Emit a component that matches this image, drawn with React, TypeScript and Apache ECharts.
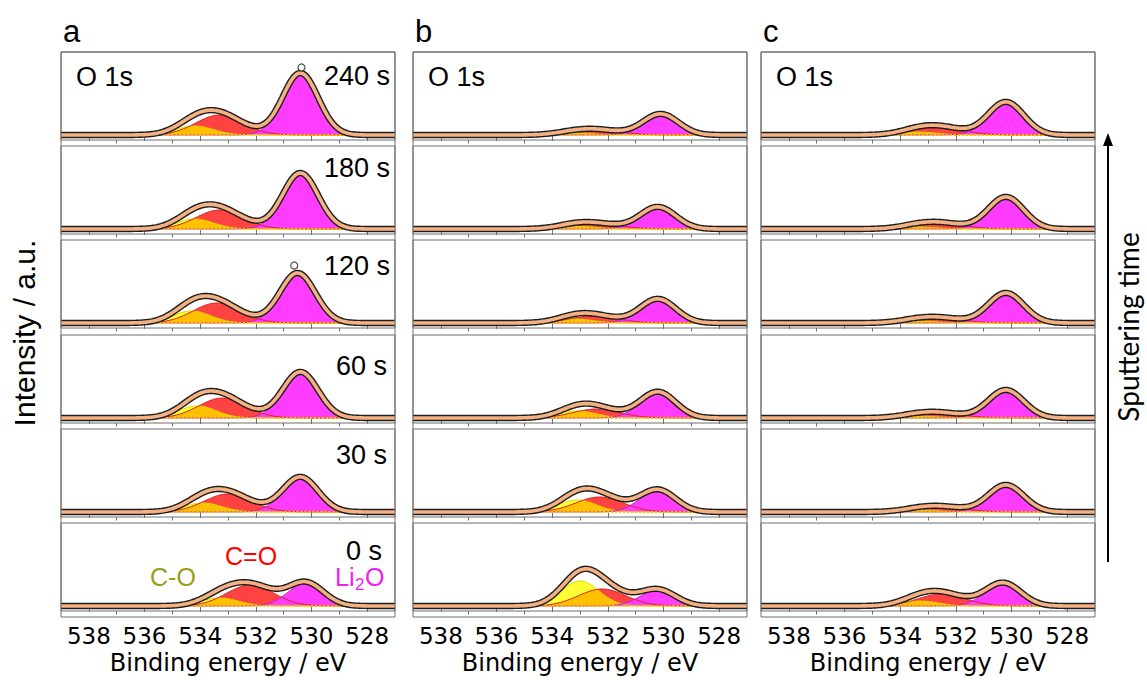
import React, { useEffect, useRef } from "react";
import * as echarts from "echarts";

// ---------- data ----------
const panelLetters = ["a", "b", "c"];
const sputterTimes = ["240 s", "180 s", "120 s", "60 s", "30 s", "0 s"];
const energyTickLabels = [538, 536, 534, 532, 530, 528];
const energyMinorTicks = [537, 535, 533, 531, 529];
const energyMin = 527;
const energyMax = 539;

// Fitted component FWHM (eV)
const fwhmCO = 1.6;
const fwhmCdO = 2.0;
const fwhmLi2O = 1.5;

// Panel a — rows from 240 s (top) to 0 s (bottom)
const aCOCenter = [534.2, 534.2, 534.3, 534.1, 533.9, 533.3];
const aCOHeight = [9, 10, 12, 12, 9, 8];
const aCdOCenter = [533.3, 533.3, 533.4, 533.2, 533.0, 532.2];
const aCdOHeight = [20, 19, 20, 20, 18, 21];
const aLi2OCenter = [530.4, 530.4, 530.5, 530.4, 530.4, 530.2];
const aLi2OHeight = [62, 56, 50, 46, 35, 23];

// Panel b
const bCOCenter = [533.2, 533.2, 533.2, 533.1, 533.1, 533.0];
const bCOHeight = [2, 3, 4, 7, 12, 25];
const bCdOCenter = [532.4, 532.4, 532.5, 532.4, 532.3, 532.2];
const bCdOHeight = [5, 5, 7, 9, 15, 17];
const bLi2OCenter = [530.1, 530.2, 530.2, 530.2, 530.2, 530.2];
const bLi2OHeight = [21, 22, 24, 26, 22, 16];

// Panel c
const cCOCenter = [533.4, 533.4, 533.4, 533.4, 533.3, 533.3];
const cCOHeight = [3, 2, 2, 2, 2, 5];
const cCdOCenter = [532.6, 532.6, 532.6, 532.6, 532.5, 532.5];
const cCdOHeight = [8, 6, 5, 5, 5, 12];
const cLi2OCenter = [530.2, 530.2, 530.2, 530.2, 530.2, 530.3];
const cLi2OHeight = [33, 32, 30, 28, 27, 23];

// Outlying data points (open circles)
const outlierPanel = [0, 0];
const outlierRow = [0, 2];
const outlierEnergy = [530.36, 530.62];
const outlierIntensity = [67.5, 57.5];

// ---------- layout / style ----------
const panelLeft = [61, 413, 761];
const panelWidth = 334;
const firstTop = 52;
const rowPitch = 94.2;
const rowHeight = 88;
const yMin = -5;

const timeLabelRight = [390, 390, 390, 387, 387, 382];
const timeLabelY = [76, 168, 266, 366, 455, 551];

const colYellow = "#FFFF33";
const colOrange = "#FFC000";
const colRed = "#FF4343";
const colMagenta = "#FF3CFF";
const colEnvelope = "#F4B183";
const frameColor = "#6e6e6e";

const panelPeaks = [
  { coC: aCOCenter, coH: aCOHeight, cdoC: aCdOCenter, cdoH: aCdOHeight, liC: aLi2OCenter, liH: aLi2OHeight },
  { coC: bCOCenter, coH: bCOHeight, cdoC: bCdOCenter, cdoH: bCdOHeight, liC: bLi2OCenter, liH: bLi2OHeight },
  { coC: cCOCenter, coH: cCOHeight, cdoC: cCdOCenter, cdoH: cCdOHeight, liC: cLi2OCenter, liH: cLi2OHeight },
];

const energies: number[] = [];
for (let i = 0; i <= 240; i++) energies.push(+(energyMin + i * 0.05).toFixed(2));

function gauss(E: number, c: number, h: number, fwhm: number) {
  return h * Math.exp((-4 * Math.LN2 * (E - c) * (E - c)) / (fwhm * fwhm));
}

function rowTop(r: number) {
  return Math.round(firstTop + rowPitch * r);
}

function buildOption() {
  const grids: any[] = [];
  const xAxes: any[] = [];
  const yAxes: any[] = [];
  const series: any[] = [];
  const graphic: any[] = [];

  panelLeft.forEach((left, p) => {
    const pk = panelPeaks[p];
    for (let r = 0; r < 6; r++) {
      const g = p * 6 + r;
      const isBottom = r === 5;
      grids.push({
        left,
        top: rowTop(r),
        width: panelWidth,
        height: rowHeight,
        show: true,
        borderColor: frameColor,
        borderWidth: 1,
        backgroundColor: "transparent",
      });
      xAxes.push({
        type: "value",
        gridIndex: g,
        min: energyMin,
        max: energyMax,
        inverse: true,
        position: "bottom",
        axisLine: { show: false },
        splitLine: { show: false },
        axisTick: {
          show: true,
          inside: false,
          length: 6,
          customValues: energyTickLabels,
          lineStyle: { color: frameColor, width: 1 },
        },
        axisLabel: {
          show: isBottom,
          customValues: energyTickLabels,
          margin: 13,
          fontFamily: "DejaVu Sans",
          fontSize: 23,
          color: "#000",
        },
        name: isBottom ? "Binding energy / eV" : "",
        nameLocation: "middle",
        nameGap: 40,
        nameTextStyle: { fontFamily: "DejaVu Sans", fontSize: 24, color: "#000" },
      });
      xAxes.push({
        type: "value",
        gridIndex: g,
        min: energyMin,
        max: energyMax,
        inverse: true,
        position: "bottom",
        offset: 0,
        axisLine: { show: false },
        splitLine: { show: false },
        axisTick: {
          show: true,
          inside: false,
          length: 3.5,
          customValues: energyMinorTicks,
          lineStyle: { color: frameColor, width: 1 },
        },
        axisLabel: { show: false },
      });
      yAxes.push({ type: "value", gridIndex: g, min: yMin, max: rowHeight + yMin, show: false });

      const co = energies.map((E) => gauss(E, pk.coC[r], pk.coH[r], fwhmCO));
      const cdo = energies.map((E) => gauss(E, pk.cdoC[r], pk.cdoH[r], fwhmCdO));
      const li = energies.map((E) => gauss(E, pk.liC[r], pk.liH[r], fwhmLi2O));
      const overlap = co.map((v, i) => Math.min(v, cdo[i]));
      const total = co.map((v, i) => v + cdo[i] + li[i]);

      const common = {
        type: "line",
        xAxisIndex: 2 * g,
        yAxisIndex: g,
        symbol: "none",
        silent: true,
        clip: true,
        animation: false,
      };
      const area = (vals: number[], fill: string, edge: string, w: number) => ({
        ...common,
        data: energies.map((E, i) => [E, vals[i]]),
        lineStyle: { color: edge, width: w },
        areaStyle: { color: fill, opacity: 1 },
      });
      series.push(area(co, colYellow, "#D8D800", 1));
      series.push(area(cdo, colRed, "#D82020", 1));
      series.push(area(overlap, colOrange, colOrange, 0));
      series.push(area(li, colMagenta, "#C020C0", 1));
      // dotted background line under the components
      series.push({
        ...common,
        data: energies.filter((E, i) => total[i] > 0.6).map((E) => [E, 0]),
        lineStyle: { color: colOrange, width: 2, type: [2, 2] },
      });
      // measured data (black) and fit envelope
      series.push({
        ...common,
        data: energies.map((E, i) => [E, total[i]]),
        lineStyle: { color: "#1e1e1e", width: 6.4 },
      });
      series.push({
        ...common,
        data: energies.map((E, i) => [E, total[i]]),
        lineStyle: { color: colEnvelope, width: 3.6 },
      });

      const outs: number[][] = [];
      outlierPanel.forEach((op, k) => {
        if (op === p && outlierRow[k] === r) outs.push([outlierEnergy[k], outlierIntensity[k]]);
      });
      if (outs.length) {
        series.push({
          type: "scatter",
          xAxisIndex: 2 * g,
          yAxisIndex: g,
          silent: true,
          symbol: "circle",
          symbolSize: 7,
          itemStyle: { color: "#fff", borderColor: "#222", borderWidth: 1.2 },
          data: outs,
          z: 5,
        });
      }

      if (p === 0) {
        graphic.push({
          type: "text",
          x: timeLabelRight[r],
          y: timeLabelY[r],
          style: {
            text: sputterTimes[r],
            fontFamily: "Liberation Sans",
            fontSize: 27,
            fill: "#000",
            align: "right",
            verticalAlign: "middle",
          },
        });
      }
    }

    // panel outer frame
    graphic.push({
      type: "rect",
      shape: { x: left, y: rowTop(0), width: panelWidth, height: rowTop(5) + rowHeight + 6 - rowTop(0) },
      style: { fill: "none", stroke: frameColor, lineWidth: 1 },
      z: 10,
    });
    graphic.push({
      type: "text",
      x: left + 2,
      y: 31,
      style: { text: panelLetters[p], fontFamily: "Liberation Sans", fontSize: 31, fill: "#000", verticalAlign: "middle" },
    });
    graphic.push({
      type: "text",
      x: left + 15,
      y: 77,
      style: { text: "O 1s", fontFamily: "Liberation Sans", fontSize: 27, fill: "#000", verticalAlign: "middle" },
    });
  });

  // component legend in panel a, 0 s
  graphic.push({
    type: "text",
    x: 150,
    y: 577,
    style: { text: "C-O", fontFamily: "Liberation Sans", fontSize: 25, fill: "#9C9C1C", verticalAlign: "middle" },
  });
  graphic.push({
    type: "text",
    x: 225,
    y: 556,
    style: { text: "C=O", fontFamily: "Liberation Sans", fontSize: 25, fill: "#FF0000", verticalAlign: "middle" },
  });
  graphic.push({
    type: "text",
    x: 335,
    y: 577,
    style: { text: "Li", fontFamily: "Liberation Sans", fontSize: 25, fill: "#F020F0", verticalAlign: "middle" },
  });
  graphic.push({
    type: "text",
    x: 355,
    y: 584,
    style: { text: "2", fontFamily: "Liberation Sans", fontSize: 17, fill: "#F020F0", verticalAlign: "middle" },
  });
  graphic.push({
    type: "text",
    x: 365,
    y: 577,
    style: { text: "O", fontFamily: "Liberation Sans", fontSize: 25, fill: "#F020F0", verticalAlign: "middle" },
  });

  // y label
  graphic.push({
    type: "text",
    x: 24,
    y: 333,
    rotation: Math.PI / 2,
    style: {
      text: "Intensity / a.u.",
      fontFamily: "Liberation Sans",
      fontSize: 30,
      fill: "#000",
      align: "center",
      verticalAlign: "middle",
    },
  });

  // sputtering-time arrow
  graphic.push({
    type: "line",
    shape: { x1: 1108, y1: 562, x2: 1108, y2: 143 },
    style: { stroke: "#000", lineWidth: 2 },
  });
  graphic.push({
    type: "polygon",
    shape: { points: [[1103, 146], [1108, 133], [1113, 146]] },
    style: { fill: "#000" },
  });
  graphic.push({
    type: "text",
    x: 1128,
    y: 327,
    rotation: Math.PI / 2,
    style: {
      text: "Sputtering time",
      fontFamily: "Lato",
      fontSize: 28,
      fill: "#000",
      align: "center",
      verticalAlign: "middle",
    },
  });

  return {
    animation: false,
    backgroundColor: "#fff",
    grid: grids,
    xAxis: xAxes,
    yAxis: yAxes,
    series,
    graphic,
  };
}

export default function App() {
  const ref = useRef<HTMLDivElement>(null);
  useEffect(() => {
    if (!ref.current) return;
    const chart = echarts.init(ref.current, null, { renderer: "svg" });
    chart.setOption(buildOption() as any);
    return () => chart.dispose();
  }, []);
  return (
    <div
      ref={ref}
      style={{ position: "fixed", left: 0, top: 0, width: 1147, height: 680, background: "#fff" }}
    />
  );
}
